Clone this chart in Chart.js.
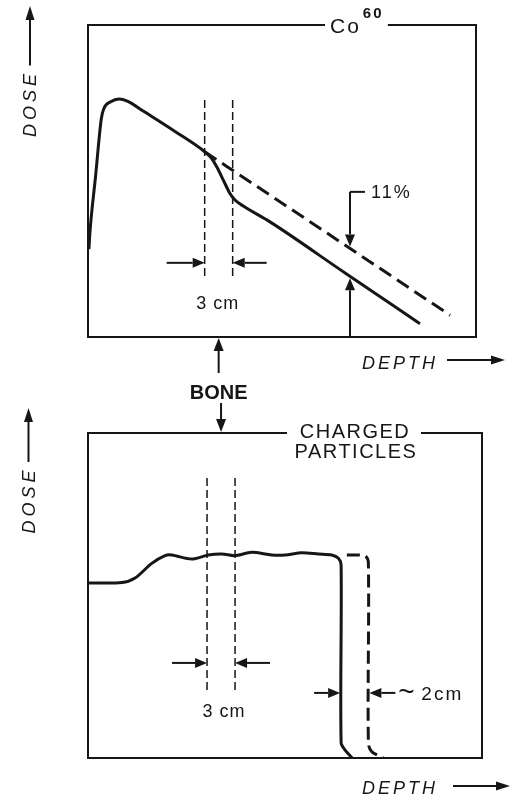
<!DOCTYPE html>
<html>
<head>
<meta charset="utf-8">
<title>Depth dose: Co-60 vs charged particles</title>
<script src="https://cdn.jsdelivr.net/npm/chart.js@4/dist/chart.umd.min.js"></script>
<style>
  html, body { margin: 0; padding: 0; background: #fff; }
  #wrap { position: relative; width: 515px; height: 795px; }
  #wrap canvas { position: absolute; left: 0; top: 0; }
</style>
</head>
<body>
<div id="wrap">
  <canvas id="co60" width="515" height="795"></canvas>
  <canvas id="charged" width="515" height="795"></canvas>
</div>
<script>
// ---- Co-60 beam: depth (cm) and dose (% of maximum) ----
const coDepth        = [0.1, 0.21, 0.8, 1.43, 1.71, 2.43, 3.32, 4.21, 6.0, 9.32, 12.5, 13.15, 13.79, 14.5, 15.21, 15.75, 16.64, 19.5, 27.54, 35.57];
const coDose         = [63.0, 67.2, 80.7, 95.2, 97.7, 99.3, 100.0, 99.5, 96.9, 92.0, 87.0, 85.6, 83.3, 80.0, 76.7, 75.1, 73.6, 69.7, 57.1, 44.6];
// same beam without the bone layer
const coNoBoneDepth  = [12.5, 19.5, 38.79];
const coNoBoneDose   = [87.0, 76.3, 46.7];
const coBone         = [12.5, 15.5];       // bone layer, cm
const coBoneSpan     = [55.4, 99.75];      // dose extent of the bone guide lines
const coMarkDepth    = 28.07;              // where the 11 % drop is marked
const coMarkLabel    = '11%';

// ---- charged-particle beam: depth (cm) and dose (% of plateau) ----
const cpDepth        = [0, 3.64, 5.04, 6.83, 8.25, 8.97, 11.11, 12.89, 14.33, 15.75, 17.54, 19.68, 21.11, 22.9, 24.68, 26.1, 26.82, 27.11, 27.11, 27.54, 28.29];
const cpDose         = [85.8, 86.0, 88.2, 95.4, 99.2, 99.5, 97.5, 99.5, 100.0, 99.2, 100.8, 99.5, 99.5, 100.6, 100.0, 99.5, 97.9, 94.6, 7.4, 3.9, 0];
const cpNoBoneDepth  = [27.72, 29.68, 30.03, 30.03, 30.39, 31.64];
const cpNoBoneDose   = [99.5, 99.0, 95.4, 7.2, 3.1, 0];
const cpBone         = [12.75, 15.75];
const cpBoneSpan     = [33.3, 137.3];

const INK = '#161616';
const FONT = '"Liberation Sans", Arial, Helvetica, sans-serif';

const toPoints = (xs, ys) => xs.map((x, i) => ({ x, y: ys[i] }));

function doseAt(xs, ys, d) {
  for (let i = 0; i < xs.length - 1; i++) {
    if (d >= xs[i] && d <= xs[i + 1] && xs[i + 1] !== xs[i]) {
      const t = (d - xs[i]) / (xs[i + 1] - xs[i]);
      return ys[i] + t * (ys[i + 1] - ys[i]);
    }
  }
  return ys[ys.length - 1];
}

function arrow(ctx, x1, y1, x2, y2, head = 12, half = 5) {
  const ang = Math.atan2(y2 - y1, x2 - x1);
  const bx = x2 - head * Math.cos(ang), by = y2 - head * Math.sin(ang);
  ctx.beginPath(); ctx.moveTo(x1, y1); ctx.lineTo(bx, by); ctx.stroke();
  ctx.beginPath();
  ctx.moveTo(x2, y2);
  ctx.lineTo(bx + half * Math.sin(ang), by - half * Math.cos(ang));
  ctx.lineTo(bx - half * Math.sin(ang), by + half * Math.cos(ang));
  ctx.closePath(); ctx.fill();
}

function text(ctx, str, x, y, font, align = 'left', spacing = '0px') {
  ctx.font = font;
  ctx.letterSpacing = spacing;
  ctx.textAlign = align;
  ctx.textBaseline = 'alphabetic';
  ctx.fillText(str, x, y);
  ctx.letterSpacing = '0px';
}

// frame with a break in the top edge for the title
function frame(ctx, a, gapL, gapR) {
  ctx.lineWidth = 2;
  ctx.beginPath();
  ctx.moveTo(gapL, a.top); ctx.lineTo(a.left, a.top); ctx.lineTo(a.left, a.bottom);
  ctx.lineTo(a.right, a.bottom); ctx.lineTo(a.right, a.top); ctx.lineTo(gapR, a.top);
  ctx.stroke();
}

function boneGuides(ctx, x, y, bone, span) {
  ctx.save();
  ctx.lineWidth = 1.5;
  ctx.setLineDash([8, 4]);
  bone.forEach(b => {
    const px = x.getPixelForValue(b);
    ctx.beginPath();
    ctx.moveTo(px, y.getPixelForValue(span[1]));
    ctx.lineTo(px, y.getPixelForValue(span[0]));
    ctx.stroke();
  });
  ctx.restore();
}

function doseLabel(ctx, cx, cy, arrowTop) {
  ctx.save();
  ctx.translate(cx, cy);
  ctx.rotate(-Math.PI / 2);
  text(ctx, 'DOSE', 0, 6.5, 'italic 18px ' + FONT, 'center', '4px');
  ctx.restore();
  ctx.lineWidth = 2;
  arrow(ctx, cx + 0.5, cy - 38, cx + 0.5, arrowTop, 14, 4.5);
}

function depthLabel(ctx, left, baseline, arrowL, arrowR, arrowY) {
  text(ctx, 'DEPTH', left, baseline, 'italic 18px ' + FONT, 'left', '3px');
  ctx.lineWidth = 2;
  arrow(ctx, arrowL, arrowY, arrowR, arrowY, 14, 4.5);
}

const coDecor = {
  id: 'coDecor',
  afterDatasetsDraw(chart) {
    const { ctx, chartArea: a, scales: { x, y } } = chart;
    ctx.save();
    ctx.strokeStyle = INK; ctx.fillStyle = INK;

    // title "Co 60" set into the top edge
    ctx.font = '21px ' + FONT; ctx.letterSpacing = '2px';
    const coW = ctx.measureText('Co').width;
    ctx.letterSpacing = '0px';
    const tLeft = a.left + 242;
    text(ctx, 'Co', tLeft, a.top + 8, '21px ' + FONT, 'left', '2px');
    const supL = tLeft + coW + 2;
    text(ctx, '60', supL, a.top - 7, 'bold 15px ' + FONT, 'left', '2px');
    frame(ctx, a, tLeft - 5, supL + 25);

    boneGuides(ctx, x, y, coBone, coBoneSpan);

    // bone width markers
    ctx.lineWidth = 2;
    const b0 = x.getPixelForValue(coBone[0]), b1 = x.getPixelForValue(coBone[1]);
    const arrY = y.getPixelForValue(59.6);
    arrow(ctx, b0 - 38, arrY, b0, arrY);
    arrow(ctx, b1 + 34, arrY, b1, arrY);
    text(ctx, '3 cm', (b0 + b1) / 2 - 1, y.getPixelForValue(48.3), '18px ' + FONT, 'center', '1px');

    // dose reduction behind bone
    const mx = x.getPixelForValue(coMarkDepth);
    const upper = y.getPixelForValue(doseAt(coNoBoneDepth, coNoBoneDose, coMarkDepth));
    const lower = y.getPixelForValue(doseAt(coDepth, coDose, coMarkDepth));
    const labY = y.getPixelForValue(77.1);
    ctx.beginPath(); ctx.moveTo(mx + 15, labY); ctx.lineTo(mx, labY); ctx.stroke();
    arrow(ctx, mx, labY, mx, upper - 2);
    arrow(ctx, mx, a.bottom, mx, lower + 2);
    text(ctx, coMarkLabel, mx + 21, labY + 6, '18px ' + FONT, 'left', '2px');

    // axis captions
    doseLabel(ctx, a.left - 58.5, a.top + 78.5, a.top - 19);
    depthLabel(ctx, a.left + 274, a.bottom + 32, a.left + 359, a.left + 417, a.bottom + 23);

    // bone pointer below the panel
    const bm = (b0 + b1) / 2;
    arrow(ctx, bm, a.bottom + 36, bm, a.bottom + 1, 13, 5);
    text(ctx, 'BONE', bm, a.bottom + 62, 'bold 20px ' + FONT, 'center');
    ctx.restore();
  }
};

const cpDecor = {
  id: 'cpDecor',
  afterDatasetsDraw(chart) {
    const { ctx, chartArea: a, scales: { x, y } } = chart;
    ctx.save();
    ctx.strokeStyle = INK; ctx.fillStyle = INK;

    text(ctx, 'CHARGED', a.left + 267, a.top + 5, '20px ' + FONT, 'center', '1.5px');
    text(ctx, 'PARTICLES', a.left + 268, a.top + 25, '20px ' + FONT, 'center', '1.5px');
    frame(ctx, a, a.left + 199, a.left + 333);

    boneGuides(ctx, x, y, cpBone, cpBoneSpan);

    ctx.lineWidth = 2;
    const b0 = x.getPixelForValue(cpBone[0]), b1 = x.getPixelForValue(cpBone[1]);
    const arrY = y.getPixelForValue(46.6);
    arrow(ctx, b0 - 35, arrY, b0, arrY);
    arrow(ctx, b1 + 35, arrY, b1, arrY);
    text(ctx, '3 cm', (b0 + b1) / 2 + 3, y.getPixelForValue(20.1), '18px ' + FONT, 'center', '1px');

    // range shift between the two distal edges
    const edge = x.getPixelForValue(cpDepth[cpDepth.length - 4]);
    const edgeNB = x.getPixelForValue(cpNoBoneDepth[cpNoBoneDepth.length - 4]);
    const shY = y.getPixelForValue(31.9);
    arrow(ctx, edge - 27, shY, edge - 1, shY);
    arrow(ctx, edgeNB + 27, shY, edgeNB + 1, shY);
    text(ctx, '~', edgeNB + 30, shY + 8, '28px ' + FONT, 'left');
    text(ctx, '2cm', edgeNB + 53, shY + 7, '19px ' + FONT, 'left', '2px');

    doseLabel(ctx, a.left - 60, a.top + 67, a.top - 25);
    depthLabel(ctx, a.left + 274, a.bottom + 36, a.left + 365, a.left + 422, a.bottom + 28);

    const bm = (b0 + b1) / 2;
    arrow(ctx, bm, a.top - 30, bm, a.top - 1, 13, 5);
    ctx.restore();
  }
};

const baseLine = { borderColor: INK, borderWidth: 3, pointRadius: 0, fill: false };

function makeChart(id, datasets, xMax, yMin, yMax, padding, plugin, lineOpts) {
  return new Chart(document.getElementById(id), {
    type: 'line',
    data: { datasets },
    options: {
      responsive: false,
      animation: false,
      devicePixelRatio: 1,
      parsing: true,
      layout: { padding },
      elements: { line: lineOpts },
      plugins: { legend: { display: false }, tooltip: { enabled: false }, title: { display: false } },
      scales: {
        x: { type: 'linear', min: 0, max: xMax, display: false },
        y: { type: 'linear', min: yMin, max: yMax, display: false }
      }
    },
    plugins: [plugin]
  });
}

makeChart('co60', [
  { ...baseLine, label: 'With bone', data: toPoints(coDepth, coDose) },
  { ...baseLine, label: 'Without bone', borderDash: [14, 7], data: toPoints(coNoBoneDepth, coNoBoneDose) }
], 41.57, 41.31, 118.25, { left: 88, top: 25, right: 39, bottom: 458 }, coDecor,
  { cubicInterpolationMode: 'monotone', borderCapStyle: 'butt', borderJoinStyle: 'round' });

makeChart('charged', [
  { ...baseLine, label: 'With bone', data: toPoints(cpDepth, cpDose) },
  { ...baseLine, label: 'Without bone', borderDash: [13, 6], data: toPoints(cpNoBoneDepth, cpNoBoneDose) }
], 42.2, 0, 159.3, { left: 88, top: 433, right: 33, bottom: 37 }, cpDecor,
  { tension: 0.3, borderCapStyle: 'butt', borderJoinStyle: 'round' });
</script>
</body>
</html>
